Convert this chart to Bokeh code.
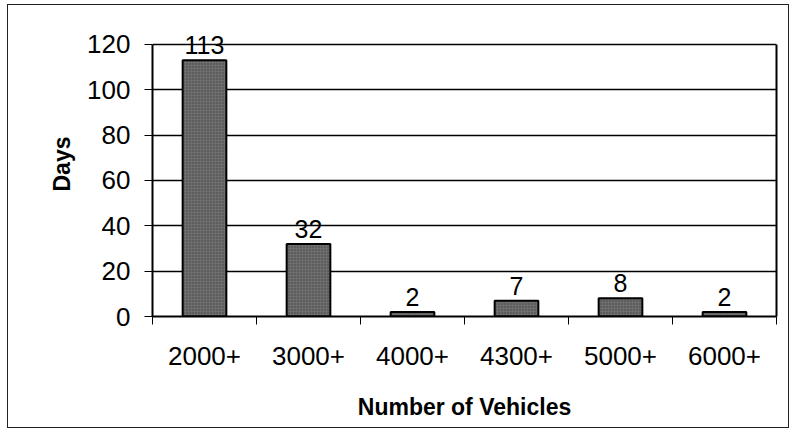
from bokeh.plotting import figure
from bokeh.models import ColumnDataSource, FixedTicker, LabelSet, Range1d, LinearAxis
from bokeh.core.properties import value
from bokeh.embed import file_html
from bokeh.resources import INLINE
import numpy as np

categories = ["2000+", "3000+", "4000+", "4300+", "5000+", "6000+"]
days = [113, 32, 2, 7, 8, 2]
y_ticks = [0, 20, 40, 60, 80, 100, 120]
y_top = 134.5  # headroom above the 120 line for the value labels

xpos = np.arange(len(categories)) + 0.5
src = ColumnDataSource(dict(x=xpos, days=days, lbl=[str(d) for d in days], cat=categories))

FONT = "Liberation Sans"

p = figure(width=782, height=424, output_backend="svg", toolbar_location=None,
           x_range=Range1d(0, len(categories)), y_range=Range1d(0, y_top),
           min_border_left=144, min_border_right=14, min_border_top=6, min_border_bottom=113)
p.styles = {"border": "1px solid #222", "margin-left": "7px", "margin-top": "4px"}
p.outline_line_color = None
p.background_fill_color = "white"
p.border_fill_color = "white"

p.vbar(x="x", top="days", width=0.42, source=src, fill_color="#6e6e6e",
       line_color="black", line_width=2, hatch_pattern="dot", hatch_color="#2e2e2e",
       hatch_scale=3, hatch_alpha=0.7)

labels = LabelSet(x="x", y="days", text="lbl", source=src, text_align="center",
                  text_baseline="bottom", y_offset=6, text_font=value(FONT),
                  text_font_size="25px", text_color="black")
p.add_layout(labels)

# y axis
yax = p.yaxis[0]
yax.bounds = (0, 120)
yax.ticker = FixedTicker(ticks=y_ticks)
yax.axis_label = "Days"
yax.axis_label_text_font = FONT
yax.axis_label_text_font_style = "bold"
yax.axis_label_text_font_size = "23px"
yax.axis_label_text_color = "black"
yax.axis_label_standoff = 9
yax.major_label_text_font = FONT
yax.major_label_text_font_size = "26px"
yax.major_label_text_color = "black"
yax.major_tick_out = 8
yax.major_tick_in = 0
yax.minor_tick_line_color = None
yax.major_label_standoff = 14
yax.axis_line_color = "black"
yax.axis_line_width = 2
yax.major_tick_line_color = "black"

# right edge of the plot box
rax = LinearAxis(bounds=(0, 120), ticker=FixedTicker(ticks=[]), axis_line_color="black",
                 axis_line_width=2, major_tick_line_color=None, minor_tick_line_color=None,
                 major_label_text_color=None, major_label_text_font_size="1px")
p.add_layout(rax, "right")

# x axis: labels at category centres, ticks between categories
xax = p.xaxis[0]
xax.ticker = FixedTicker(ticks=list(xpos), minor_ticks=list(range(len(categories) + 1)))
xax.major_label_overrides = {float(x): c for x, c in zip(xpos, categories)}
xax.major_tick_line_color = None
xax.major_tick_out = 0
xax.major_tick_in = 0
xax.minor_tick_line_color = "black"
xax.minor_tick_out = 8
xax.minor_tick_in = 0
xax.major_label_standoff = 22
xax.major_label_text_font = FONT
xax.major_label_text_font_size = "26px"
xax.major_label_text_color = "black"
xax.axis_label = "Number of Vehicles"
xax.axis_label_text_font = FONT
xax.axis_label_text_font_style = "bold"
xax.axis_label_text_font_size = "23px"
xax.axis_label_text_color = "black"
xax.axis_label_standoff = 26
xax.axis_line_color = "black"
xax.axis_line_width = 2

p.xgrid.grid_line_color = None
p.ygrid.ticker = FixedTicker(ticks=y_ticks)
p.ygrid.grid_line_color = "black"
p.ygrid.grid_line_width = 1.3

open("out.html", "w").write(file_html(p, INLINE))
